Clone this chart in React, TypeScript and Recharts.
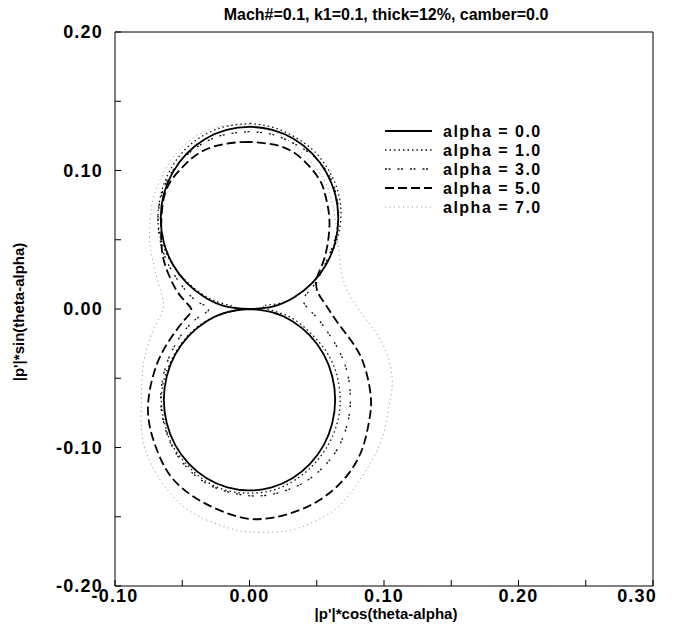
import React from 'react';
import { LineChart, Line, XAxis, YAxis, Legend, Label } from 'recharts';

// ---------- data ----------
const TITLE = 'Mach#=0.1, k1=0.1, thick=12%, camber=0.0';
const X_LABEL = "|p'|*cos(theta-alpha)";
const Y_LABEL = "|p'|*sin(theta-alpha)";
const X_TICKS = [-0.1, -0.05, 0, 0.05, 0.1, 0.15, 0.2, 0.25, 0.3];
const Y_TICKS = [-0.2, -0.15, -0.1, -0.05, 0, 0.05, 0.1, 0.15, 0.2];
const X_DOMAIN: [number, number] = [-0.1, 0.3];
const Y_DOMAIN: [number, number] = [-0.2, 0.2];
const SERIES_NAMES = ['alpha = 0.0', 'alpha = 1.0', 'alpha = 3.0', 'alpha = 5.0', 'alpha = 7.0'];

// alpha = 0.0 : upper loop and lower loop (meet in a cusp at the origin)
const ALPHA0_UPPER: [number, number][] = [
  [0, 0], [0.0171, 0.0017], [0.033, 0.0083], [0.0467, 0.0188], [0.0572, 0.0325], [0.0638, 0.0484],
  [0.066, 0.0655], [0.0638, 0.0826], [0.0572, 0.0985], [0.0467, 0.1122], [0.033, 0.1227], [0.0171, 0.1293],
  [0, 0.1315], [-0.0171, 0.1293], [-0.033, 0.1227], [-0.0467, 0.1122], [-0.0572, 0.0985], [-0.0638, 0.0826],
  [-0.066, 0.0655], [-0.0638, 0.0484], [-0.0572, 0.0325], [-0.0467, 0.0188], [-0.033, 0.0083], [-0.0171, 0.0017],
  [0, 0],
];
const ALPHA0_LOWER: [number, number][] = [
  [0, 0], [-0.0165, -0.0022], [-0.0319, -0.0088], [-0.045, -0.0192], [-0.0552, -0.0328], [-0.0615, -0.0485],
  [-0.0637, -0.0655], [-0.0615, -0.0825], [-0.0552, -0.0983], [-0.045, -0.1118], [-0.0319, -0.1222], [-0.0165, -0.1288],
  [0, -0.131], [0.0165, -0.1288], [0.0319, -0.1222], [0.045, -0.1118], [0.0552, -0.0983], [0.0615, -0.0825],
  [0.0637, -0.0655], [0.0615, -0.0485], [0.0552, -0.0328], [0.045, -0.0192], [0.0319, -0.0088], [0.0165, -0.0022],
  [0, 0],
];
// other angles: closed curves, starting and ending at the top of the upper loop
const ALPHA1: [number, number][] = [
  [0.001, 0.134], [-0.017, 0.132],
  [-0.033, 0.126], [-0.047, 0.116], [-0.058, 0.102], [-0.065, 0.086], [-0.068, 0.068], [-0.066, 0.051],
  [-0.059, 0.035], [-0.048, 0.021], [-0.034, 0.01], [-0.02, 0.004], [-0.008, 0],
  [-0.018, -0.003], [-0.033, -0.009], [-0.046, -0.0195], [-0.056, -0.033], [-0.063, -0.049], [-0.0655, -0.066],
  [-0.063, -0.083], [-0.057, -0.099], [-0.046, -0.113], [-0.033, -0.124], [-0.017, -0.131], [0, -0.133],
  [0.017, -0.131], [0.033, -0.124], [0.047, -0.113], [0.058, -0.099], [0.065, -0.083], [0.0675, -0.066],
  [0.065, -0.048], [0.058, -0.032], [0.047, -0.019], [0.034, -0.008], [0.02, -0.002], [0.01, 0.002],
  [0.022, 0.004], [0.035, 0.0095], [0.048, 0.02], [0.058, 0.034], [0.065, 0.05], [0.068, 0.067],
  [0.066, 0.084], [0.059, 0.1], [0.048, 0.114], [0.034, 0.124], [0.018, 0.131], [0.001, 0.134],
];
const ALPHA3: [number, number][] = [
  [0, 0.128], [-0.018, 0.126], [-0.034, 0.12], [-0.048, 0.11],
  [-0.059, 0.097], [-0.066, 0.08], [-0.068, 0.062], [-0.065, 0.044], [-0.058, 0.028], [-0.048, 0.014],
  [-0.038, 0.005], [-0.03, 0],
  [-0.038, -0.006], [-0.049, -0.0165], [-0.058, -0.031], [-0.064, -0.048], [-0.066, -0.067], [-0.063, -0.085],
  [-0.056, -0.102], [-0.045, -0.116], [-0.03, -0.127], [-0.012, -0.133], [0.006, -0.135], [0.024, -0.132],
  [0.041, -0.125], [0.055, -0.114], [0.066, -0.1], [0.073, -0.082], [0.075, -0.065], [0.073, -0.047],
  [0.067, -0.031], [0.058, -0.0165], [0.048, -0.004], [0.04, 0.006],
  [0.047, 0.016], [0.055, 0.03], [0.062, 0.046], [0.066, 0.063], [0.065, 0.08], [0.059, 0.097],
  [0.048, 0.11], [0.034, 0.119], [0.017, 0.126], [0, 0.128],
];
const ALPHA5: [number, number][] = [
  [-0.0007, 0.1207], [-0.0179, 0.1193], [-0.0358, 0.1136],
  [-0.0493, 0.1029], [-0.0604, 0.0893], [-0.0649, 0.0729], [-0.0657, 0.055], [-0.0642, 0.0371], [-0.0582, 0.0207],
  [-0.0507, 0.0086], [-0.0433, 0],
  [-0.0478, -0.0073], [-0.0582, -0.0206], [-0.0679, -0.0375], [-0.0739, -0.0574], [-0.0754, -0.0758],
  [-0.0716, -0.0941], [-0.0627, -0.1147], [-0.0507, -0.1288], [-0.0328, -0.1405], [-0.0082, -0.1501],
  [0.0104, -0.1515], [0.0291, -0.1479], [0.0515, -0.1383], [0.0716, -0.1214], [0.0836, -0.1016],
  [0.0888, -0.0817], [0.0903, -0.0648], [0.0866, -0.0449], [0.0791, -0.0279], [0.0664, -0.011],
  [0.0567, 0.0029], [0.0503, 0.0133], [0.0505, 0.0237], [0.0555, 0.036], [0.059, 0.0536], [0.059, 0.0693],
  [0.056, 0.0836], [0.0515, 0.0943], [0.0388, 0.1086], [0.0216, 0.1179], [-0.0007, 0.1207],
];
const ALPHA7: [number, number][] = [
  [0, 0.133], [-0.02, 0.132], [-0.036, 0.127], [-0.05, 0.117], [-0.06, 0.105], [-0.067, 0.092], [-0.072, 0.078],
  [-0.074, 0.062], [-0.074, 0.046], [-0.071, 0.031], [-0.067, 0.016], [-0.064, 0.002],
  [-0.07, -0.012], [-0.077, -0.031], [-0.08, -0.051], [-0.0805, -0.077], [-0.078, -0.1], [-0.066, -0.124],
  [-0.052, -0.14], [-0.037, -0.15], [-0.016, -0.158], [0, -0.161], [0.02, -0.161], [0.037, -0.158],
  [0.055, -0.15], [0.069, -0.14], [0.085, -0.119], [0.098, -0.095], [0.103, -0.074], [0.106, -0.056],
  [0.104, -0.038], [0.096, -0.02], [0.087, -0.008], [0.081, 0.0], [0.075, 0.009], [0.07, 0.02],
  [0.067, 0.036], [0.065, 0.055], [0.062, 0.075], [0.055, 0.094], [0.04, 0.112], [0.022, 0.126], [0, 0.133],
];

// ---------- styles ----------
const FONT = '"Liberation Sans", Arial, Helvetica, sans-serif';
const STYLES = [
  { stroke: '#000', width: 1.8, dash: undefined as string | undefined },
  { stroke: '#111', width: 1.3, dash: '1.5 3' },
  { stroke: '#111', width: 1.3, dash: '2 1.5 2 7' },
  { stroke: '#000', width: 1.8, dash: '9 4' },
  { stroke: '#8a8a8a', width: 1, dash: '1 3.5' },
];

const toPts = (arr: [number, number][]) => arr.map(([x, y]) => ({ x, y }));

const fmt = (v: number) =>
  Math.abs(v * 10 - Math.round(v * 10)) < 1e-6 ? v.toFixed(2) : '';

const tickStyle = { fontFamily: FONT, fontSize: 18, fontWeight: 'bold', fill: '#000', letterSpacing: 1.2 };

const XTick = (props: any) => {
  const { x, y, payload } = props;
  const label = fmt(payload.value);
  if (!label) return null;
  const last = Math.abs(payload.value - X_DOMAIN[1]) < 1e-9;
  return (
    <text x={last ? x + 4 : x} y={y} dy="0.71em" textAnchor={last ? 'end' : 'middle'}
      fontFamily={FONT} fontSize={18} fontWeight="bold" letterSpacing={1.2} fill="#000">
      {label}
    </text>
  );
};

const renderLegend = () => (
  <svg width={200} height={105} style={{ display: 'block' }}>
    {SERIES_NAMES.map((name, i) => {
      const cy = 11 + i * 19;
      const s = STYLES[i];
      return (
        <g key={name}>
          <line x1={5} x2={52} y1={cy} y2={cy} stroke={s.stroke} strokeWidth={s.width} strokeDasharray={s.dash} />
          <text x={63} y={cy + 5.7} fontFamily={FONT} fontSize={16} fontWeight="bold" letterSpacing={1.5} fill="#000">
            {name}
          </text>
        </g>
      );
    })}
  </svg>
);

export default function App() {
  return (
    <div style={{ margin: '-8px 0 0 -8px', width: 675, height: 632 }}>
      <LineChart width={675} height={632} margin={{ top: 31, right: 21, bottom: 0, left: 0 }}>
        <XAxis
          xAxisId="b" type="number" dataKey="x" domain={X_DOMAIN} ticks={X_TICKS} interval={0}
          orientation="bottom" height={46} tickSize={-6} tickMargin={9} tickFormatter={fmt}
          tick={<XTick />} stroke="#000" allowDataOverflow
        >
          <Label
            content={(p: any) => {
              const vb = p.viewBox || { x: 115, y: 586, width: 538, height: 46 };
              return (
                <text x={vb.x + vb.width / 2 + 2} y={vb.y + 33} textAnchor="middle" fontFamily={FONT}
                  fontSize={15} fontWeight="bold" fill="#000">{X_LABEL}</text>
              );
            }}
          />
        </XAxis>
        <XAxis
          xAxisId="t" type="number" dataKey="x" domain={X_DOMAIN} ticks={X_TICKS} interval={0}
          orientation="top" height={1} tickSize={-6} tick={false} stroke="#000" allowDataOverflow
        >
          <Label
            content={(p: any) => {
              const vb = p.viewBox || { x: 115, y: 31, width: 538, height: 1 };
              return (
                <text x={vb.x + vb.width / 2 + 2} y={20} textAnchor="middle" fontFamily={FONT}
                  fontSize={16} fontWeight="bold" fill="#000">{TITLE}</text>
              );
            }}
          />
        </XAxis>
        <YAxis
          yAxisId="l" type="number" dataKey="y" domain={Y_DOMAIN} ticks={Y_TICKS} interval={0}
          orientation="left" width={115} tickSize={-6} tickMargin={18} tickFormatter={fmt}
          tick={tickStyle} stroke="#000" allowDataOverflow
        >
          <Label
            content={(p: any) => {
              const vb = p.viewBox || { x: 0, y: 32, width: 115, height: 554 };
              const cy = vb.y + vb.height / 2 + 3;
              return (
                <text x={24} y={cy} transform={`rotate(-90, 24, ${cy})`} textAnchor="middle" fontFamily={FONT}
                  fontSize={15} fontWeight="bold" fill="#000">{Y_LABEL}</text>
              );
            }}
          />
        </YAxis>
        <YAxis
          yAxisId="r" type="number" dataKey="y" domain={Y_DOMAIN} ticks={Y_TICKS} interval={0}
          orientation="right" width={1} tickSize={-6} tick={false} stroke="#000" allowDataOverflow
        />
        <Legend
          layout="horizontal" align="center" verticalAlign="middle" content={renderLegend}
          wrapperStyle={{ left: 380, top: 120, width: 200, height: 105 }}
        />
        <Line xAxisId="b" yAxisId="l" name={SERIES_NAMES[4]} data={toPts(ALPHA7)} dataKey="y" type="natural"
          stroke={STYLES[4].stroke} strokeWidth={STYLES[4].width} strokeDasharray={STYLES[4].dash}
          dot={false} activeDot={false} isAnimationActive={false} />
        <Line xAxisId="b" yAxisId="l" name={SERIES_NAMES[3]} data={toPts(ALPHA5)} dataKey="y" type="natural"
          stroke={STYLES[3].stroke} strokeWidth={STYLES[3].width} strokeDasharray={STYLES[3].dash}
          dot={false} activeDot={false} isAnimationActive={false} />
        <Line xAxisId="b" yAxisId="l" name={SERIES_NAMES[2]} data={toPts(ALPHA3)} dataKey="y" type="natural"
          stroke={STYLES[2].stroke} strokeWidth={STYLES[2].width} strokeDasharray={STYLES[2].dash}
          dot={false} activeDot={false} isAnimationActive={false} />
        <Line xAxisId="b" yAxisId="l" name={SERIES_NAMES[1]} data={toPts(ALPHA1)} dataKey="y" type="natural"
          stroke={STYLES[1].stroke} strokeWidth={STYLES[1].width} strokeDasharray={STYLES[1].dash}
          dot={false} activeDot={false} isAnimationActive={false} />
        <Line xAxisId="b" yAxisId="l" name={SERIES_NAMES[0]} data={toPts(ALPHA0_UPPER)} dataKey="y" type="natural"
          stroke={STYLES[0].stroke} strokeWidth={STYLES[0].width}
          dot={false} activeDot={false} isAnimationActive={false} />
        <Line xAxisId="b" yAxisId="l" name={SERIES_NAMES[0] + ' (lower)'} legendType="none" data={toPts(ALPHA0_LOWER)}
          dataKey="y" type="natural" stroke={STYLES[0].stroke} strokeWidth={STYLES[0].width}
          dot={false} activeDot={false} isAnimationActive={false} />
      </LineChart>
    </div>
  );
}
